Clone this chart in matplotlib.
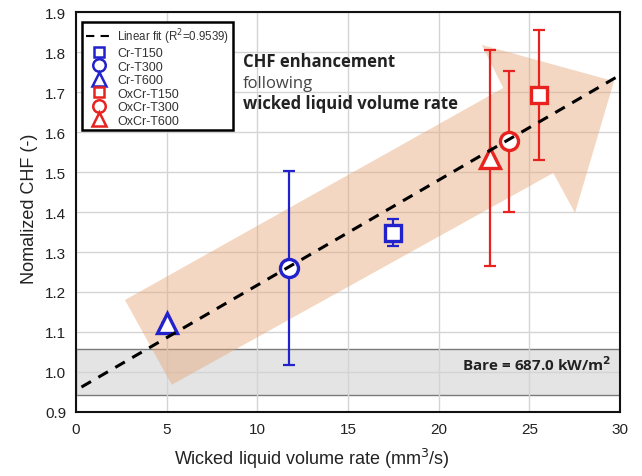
import numpy as np
import matplotlib
matplotlib.use("Agg")
import matplotlib.pyplot as plt
from matplotlib.patches import Polygon
from matplotlib.lines import Line2D

plt.rcParams['font.family'] = ['Liberation Sans', 'DejaVu Sans']

# data
labels = ["Cr-T150", "Cr-T300", "Cr-T600", "OxCr-T150", "OxCr-T300", "OxCr-T600"]
flow_rate = [17.5, 11.77, 5.0, 25.55, 23.9, 22.83]
chf_norm = [1.348, 1.26, 1.122, 1.693, 1.577, 1.535]
chf_err = [0.034, 0.242, 0.0, 0.163, 0.176, 0.27]
markers = ["s", "o", "^", "s", "o", "^"]
colors = ["#2222cc", "#2222cc", "#2222cc", "#e8231f", "#e8231f", "#e8231f"]
marker_size = [11, 13, 14, 11, 13, 15]

fit_slope = 0.02626
fit_intercept = 0.9545
fit_r2 = 0.9539
bare_chf = 687.0
bare_band = (0.943, 1.057)

txt_font = ["Open Sans", "DejaVu Sans"]

fig = plt.figure(figsize=(6.42, 4.77), dpi=100)
ax = fig.add_axes([0.1184, 0.1342, 0.8473, 0.8385])

ax.set_xlim(0, 30)
ax.set_ylim(0.9, 1.9)
ax.set_xticks(np.arange(0, 31, 5))
ax.set_yticks(np.arange(0.9, 1.91, 0.1))
ax.set_yticklabels([f"{v:.1f}" for v in np.arange(0.9, 1.91, 0.1)])
ax.grid(True, color="#d4d4d4", lw=1.0, zorder=0)
ax.set_axisbelow(True)
ax.tick_params(length=0, labelsize=11, pad=7, colors="#222222")
for sp in ax.spines.values():
    sp.set_linewidth(1.5)
    sp.set_color("#111111")

# bare surface band
ax.axhspan(bare_band[0], bare_band[1], facecolor="#e4e4e4", edgecolor="#7a7a7a",
           lw=1.0, zorder=0.5)
ax.text(29.5, 1.022, f"Bare = {bare_chf:.1f} kW/m$^\\mathbf{{2}}$", ha="right", va="center",
        fontsize=11, fontweight="bold", color="#222222", family=txt_font)

# big trend arrow
arrow_pts = [(2.70, 1.18), (23.56, 1.71), (22.37, 1.818), (29.67, 1.727),
             (27.52, 1.3975), (26.32, 1.4975), (5.28, 0.968)]
ax.add_patch(Polygon(arrow_pts, closed=True, facecolor="#e8a878", alpha=0.45,
                     edgecolor="none", zorder=1))

for x, y, e, m, c, s in zip(flow_rate, chf_norm, chf_err, markers, colors, marker_size):
    ax.errorbar(x, y, yerr=e, fmt="none", ecolor=c, elinewidth=1.6, capsize=4.5,
                capthick=1.6, zorder=3)
    ax.plot(x, y, marker=m, ms=s, mfc="white", mec=c, mew=2.4, ls="none", zorder=4)

# linear fit
xf = np.array([0.3, 29.8])
ax.plot(xf, fit_intercept + fit_slope * xf, color="black", lw=2.2,
        dashes=(3.6, 2.8), zorder=5)

ax.text(9.2, 1.7775, "CHF enhancement", fontsize=12, fontweight="bold", color="#222222",
        va="center", family=txt_font)
ax.text(9.2, 1.7225, "following", fontsize=12, color="#444444",
        va="center", family=txt_font)
ax.text(9.2, 1.6725, "wicked liquid volume rate", fontsize=12, fontweight="bold",
        color="#222222", va="center", family=txt_font)

handles = [Line2D([], [], color="black", lw=1.5, dashes=(4, 3))]
leg_ms = [7.5, 9, 10, 7.5, 9, 10]
for m, c, s in zip(markers, colors, leg_ms):
    handles.append(Line2D([], [], marker=m, ms=s, mfc="white", mec=c, mew=1.8, ls="none"))
leg = ax.legend(handles, [f"Linear fit (R$^2$={fit_r2})"] + labels, loc="upper left",
                bbox_to_anchor=(0.0, 0.99), fontsize=9, labelspacing=0.12,
                handlelength=2.0, handletextpad=0.5, borderpad=0.3,
                fancybox=False, framealpha=1, edgecolor="black")
leg.get_frame().set_linewidth(1.8)
texts = leg.get_texts()
texts[0].set_fontsize(8.3)
for t in texts:
    t.set_color("#333333")

ax.set_xlabel("Wicked liquid volume rate (mm$^3$/s)", fontsize=13, color="#222222")
ax.xaxis.set_label_coords(0.434, -0.085)
ax.set_ylabel("Nomalized CHF (-)", fontsize=13, color="#222222")
ax.yaxis.set_label_coords(-0.07, 0.51)

fig.savefig("out.png", dpi=100)
